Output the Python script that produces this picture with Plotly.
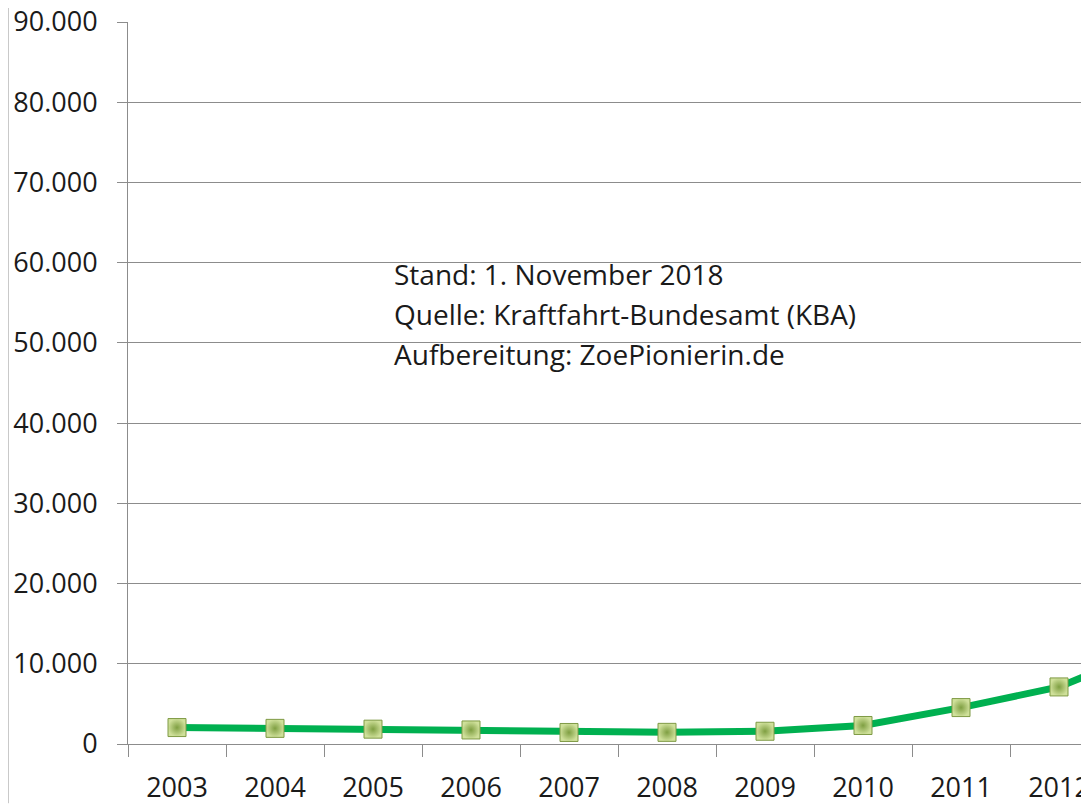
import plotly.graph_objects as go

years = ["2003", "2004", "2005", "2006", "2007", "2008", "2009", "2010", "2011", "2012",
         "2013", "2014", "2015", "2016", "2017", "2018"]
bev_bestand = [2050, 1950, 1850, 1750, 1436, 1452, 1588, 2307, 4541, 7114,
               12156, 18948, 25502, 34022, 53861, 83000]
y_ticks = [0, 10000, 20000, 30000, 40000, 50000, 60000, 70000, 80000, 90000]
title_text = "Bestand Elektroautos (BEV) in D"
note_lines = ["Stand: 1. November 2018",
              "Quelle: Kraftfahrt-Bundesamt (KBA)",
              "Aufbereitung: ZoePionierin.de"]
note_y = [58600, 53600, 48650]

FONT = "Open Sans"
GRID = "#8c8c8c"

fig = go.Figure()
fig.add_trace(go.Scatter(
    x=years, y=bev_bestand, mode="lines+markers",
    line=dict(color="#00b050", width=7),
    marker=dict(symbol="square", size=18, color="#cfe09a",
                gradient=dict(type="radial", color="#7f9f42"),
                line=dict(color="#7f9a45", width=1)),
    showlegend=False, cliponaxis=False,
))

for txt, yy in zip(note_lines, note_y):
    fig.add_annotation(x=0.2747, xref="paper", y=yy, yref="y", text=txt,
                       showarrow=False, xanchor="left", yanchor="middle",
                       font=dict(family=FONT, size=28, color="#1a1a1a"))

fig.add_annotation(x=0.482, xref="paper", y=1.0, yref="paper", yshift=12,
                   text="<b>" + title_text + "</b>", showarrow=False,
                   xanchor="center", yanchor="bottom",
                   font=dict(family=FONT, size=30, color="#000000"))

fig.add_shape(type="line", xref="paper", yref="paper",
              x0=-0.1249, x1=-0.1249, y0=-0.082, y1=1.04,
              line=dict(color="#8c8c8c", width=1))

fig.update_layout(
    width=1081, height=796,
    margin=dict(l=120, r=0, t=14, b=60, autoexpand=False),
    paper_bgcolor="white", plot_bgcolor="white",
    separators=",.",
    font=dict(family=FONT, size=27, color="#1a1a1a"),
)
fig.update_xaxes(
    type="category", range=[-0.5, 9.306], automargin=False,
    showline=True, linecolor=GRID, linewidth=1,
    ticks="outside", tickson="boundaries", ticklen=12, tickcolor=GRID,
    showgrid=False, tickfont=dict(family=FONT, size=27, color="#1a1a1a"),
    ticklabelstandoff=20, ticklabeloverflow="allow",
)
fig.update_yaxes(
    range=[0, 90000], tickvals=y_ticks, tickformat=",d", automargin=False,
    showline=True, linecolor=GRID, linewidth=1,
    ticks="outside", ticklen=10, tickcolor=GRID,
    showgrid=True, gridcolor=GRID, gridwidth=1, zeroline=False,
    tickfont=dict(family=FONT, size=27, color="#1a1a1a"),
    ticklabelstandoff=14, ticklabeloverflow="allow",
)

fig.write_html("out.html")
